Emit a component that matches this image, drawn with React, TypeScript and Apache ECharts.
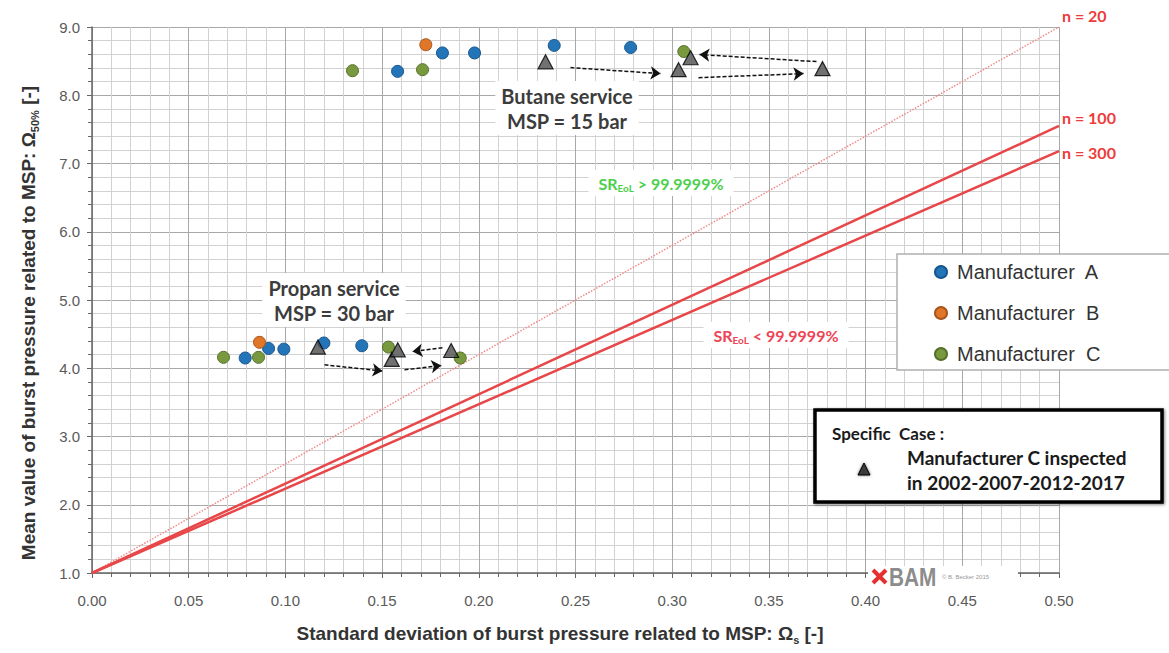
import React, { useEffect, useRef } from "react";
import * as echarts from "echarts";

// ---- data (x = Ω_s, y = Ω_50%) ----
const manufacturerA: number[][] = [
  [0.158, 8.35], [0.1812, 8.62], [0.1978, 8.62], [0.239, 8.73], [0.2785, 8.7],
  [0.0792, 4.15], [0.0913, 4.29], [0.0992, 4.28], [0.1199, 4.37], [0.1395, 4.33],
];
const manufacturerB: number[][] = [
  [0.1726, 8.74], [0.0866, 4.38],
];
const manufacturerC: number[][] = [
  [0.1347, 8.36], [0.1709, 8.375], [0.306, 8.64],
  [0.068, 4.16], [0.0861, 4.16], [0.1533, 4.31], [0.1904, 4.15],
];
// Manufacturer C inspected 2002-2007-2012-2017
const inspectedButane: number[][] = [
  [0.2345, 8.49], [0.3033, 8.375], [0.3777, 8.39], [0.3095, 8.55],
];
const inspectedPropan: number[][] = [
  [0.1168, 4.31], [0.155, 4.13], [0.1857, 4.26], [0.1581, 4.27],
];
const butaneArrows: number[][][] = [
  [[0.2474, 8.405], [0.294, 8.317]],
  [[0.3136, 8.258], [0.3679, 8.317]],
  [[0.3746, 8.493], [0.3141, 8.596]],
];
const propanArrows: number[][][] = [
  [[0.1202, 4.05], [0.1502, 3.96]],
  [[0.1616, 3.977], [0.1806, 4.04]],
  [[0.1812, 4.3], [0.1657, 4.245]],
];
const limitNames = ["n = 20", "n = 100", "n = 300"];
const limitStart = [0, 1.0];
const limitEndX = 0.5;
const limitEndY = [9.0, 7.55, 7.18];

const legendNames = ["Manufacturer  A", "Manufacturer  B", "Manufacturer  C"];

const FONT = "Liberation Sans, Arial, sans-serif";
const CAL = "Lato, Carlito, sans-serif";

export default function App() {
  const ref = useRef<HTMLDivElement>(null);
  useEffect(() => {
    if (!ref.current) return;
    const chart = echarts.init(ref.current, undefined, { renderer: "svg" });

    const circleSeries = (name: string, data: number[][], color: string, border: string) => ({
      name,
      type: "scatter",
      data,
      symbol: "circle",
      symbolSize: 12,
      itemStyle: { color, borderColor: border, borderWidth: 1, opacity: 1 },
      z: 5,
    });

    const limitStyles = [
      { color: "#f08a8a", width: 1.5, type: "dotted", off: [0, -12] },
      { color: "#e8474a", width: 2.5, type: "solid", off: [0, -8] },
      { color: "#e8474a", width: 2.5, type: "solid", off: [0, 1] },
    ];

    const limitSeries = limitNames.map((n, i) => ({
      name: n,
      type: "line",
      data: [limitStart, [limitEndX, limitEndY[i]]],
      showSymbol: false,
      symbol: "none",
      lineStyle: { color: limitStyles[i].color, width: limitStyles[i].width, type: limitStyles[i].type },
      clip: false,
      z: 3,
      endLabel: {
        show: true,
        formatter: n,
        color: "#ee3b3b",
        fontSize: 16,
        fontWeight: "bold",
        fontFamily: CAL,
        distance: 3,
        offset: limitStyles[i].off,
      },
      silent: true,
    }));

    const arrowSeries = (data: number[][][]) => ({
      type: "lines",
      coordinateSystem: "cartesian2d",
      symbol: ["none", "arrow"],
      symbolSize: 10,
      lineStyle: { color: "#111", width: 1.5, type: [4, 2], opacity: 1 },
      data: data.map((c) => ({ coords: c })),
      z: 6,
      silent: true,
    });

    const triSeries = (data: number[][]) => ({
      name: "Inspected",
      type: "scatter",
      data,
      symbol: "triangle",
      symbolSize: [15, 14],
      itemStyle: { color: "#4d4d4d", borderColor: "#000", borderWidth: 1.2 },
      z: 7,
    });

    const option: any = {
      animation: false,
      backgroundColor: "#ffffff",
      grid: { left: 92, right: 110, top: 27, bottom: 80 },
      xAxis: {
        type: "value",
        min: 0,
        max: 0.5,
        interval: 0.05,
        axisLine: { show: true, onZero: false, lineStyle: { color: "#666", width: 1.5 } },
        axisTick: { show: true, length: 5, lineStyle: { color: "#666" } },
        minorTick: { show: true, splitNumber: 5, length: 4, lineStyle: { color: "#666" } },
        splitLine: { show: true, lineStyle: { color: "#a8a8a8", width: 1 } },
        minorSplitLine: { show: true, lineStyle: { color: "#d2d2d2", width: 1 } },
        axisLabel: {
          margin: 20,
          color: "#5a5a5a",
          fontSize: 15,
          fontFamily: FONT,
          formatter: (v: number) => v.toFixed(2),
        },
      },
      yAxis: {
        type: "value",
        min: 1,
        max: 9,
        interval: 1,
        axisLine: { show: true, onZero: false, lineStyle: { color: "#666", width: 1.5 } },
        axisTick: { show: true, length: 5, lineStyle: { color: "#666" } },
        minorTick: { show: true, splitNumber: 5, length: 4, lineStyle: { color: "#666" } },
        splitLine: { show: true, lineStyle: { color: "#a8a8a8", width: 1 } },
        minorSplitLine: { show: true, lineStyle: { color: "#d2d2d2", width: 1 } },
        axisLabel: {
          margin: 12,
          color: "#5a5a5a",
          fontSize: 15,
          fontFamily: FONT,
          formatter: (v: number) => v.toFixed(1),
        },
      },
      legend: {
        data: legendNames,
        orient: "vertical",
        left: 934,
        top: 261,
        padding: 0,
        itemGap: 19,
        itemWidth: 22,
        itemHeight: 12,
        icon: "circle",
        textStyle: { fontSize: 20, lineHeight: 22, color: "#333", fontFamily: FONT },
        z: 20,
      },
      graphic: [
        // legend frame
        {
          type: "rect",
          z: 15,
          shape: { x: 897, y: 254, width: 300, height: 116 },
          style: { fill: "#fff", stroke: "#b0b0b0", lineWidth: 1.5 },
        },
        // Butane annotation
        {
          type: "text",
          z: 12,
          x: 567,
          y: 108,
          style: {
            text: "Butane service\nMSP = 15 bar",
            font: `bold 20px ${CAL}`,
            fill: "#3c3c3c",
            align: "center",
            verticalAlign: "middle",
            lineHeight: 25,
            backgroundColor: "#fff",
            padding: [2, 6],
          },
        },
        // Propan annotation
        {
          type: "text",
          z: 12,
          x: 334,
          y: 300,
          style: {
            text: "Propan service\nMSP = 30 bar",
            font: `bold 20px ${CAL}`,
            fill: "#3c3c3c",
            align: "center",
            verticalAlign: "middle",
            lineHeight: 25,
            backgroundColor: "#fff",
            padding: [2, 6],
          },
        },
        // SR labels
        {
          type: "text",
          z: 12,
          x: 661,
          y: 183,
          style: {
            text: "{a|SR}{s|EoL}{a| > 99.9999%}",
            align: "center",
            verticalAlign: "middle",
            backgroundColor: "#fff",
            padding: [3, 10],
            rich: {
              a: { fontSize: 16, fontWeight: "bold", fontFamily: CAL, fill: "#4ccf4c", color: "#4ccf4c", lineHeight: 20 },
              s: { fontSize: 10, fontWeight: "bold", fontFamily: CAL, fill: "#4ccf4c", color: "#4ccf4c", lineHeight: 20, verticalAlign: "bottom" },
            },
          },
        },
        {
          type: "text",
          z: 12,
          x: 776,
          y: 335,
          style: {
            text: "{a|SR}{s|EoL}{a| < 99.9999%}",
            align: "center",
            verticalAlign: "middle",
            backgroundColor: "#fff",
            padding: [3, 10],
            rich: {
              a: { fontSize: 16, fontWeight: "bold", fontFamily: CAL, fill: "#ee4455", color: "#ee4455", lineHeight: 20 },
              s: { fontSize: 10, fontWeight: "bold", fontFamily: CAL, fill: "#ee4455", color: "#ee4455", lineHeight: 20, verticalAlign: "bottom" },
            },
          },
        },
        // Specific case box
        {
          type: "rect",
          z: 20,
          shape: { x: 815, y: 410, width: 347, height: 92 },
          style: { fill: "#fff", stroke: "#000", lineWidth: 3.5, shadowBlur: 3, shadowColor: "rgba(0,0,0,0.5)", shadowOffsetX: 1, shadowOffsetY: 1 },
        },
        {
          type: "text",
          z: 21,
          x: 832,
          y: 433,
          style: { text: "Specific  Case :", font: `bold 17px ${CAL}`, fill: "#1a1a1a", verticalAlign: "middle" },
        },
        {
          type: "text",
          z: 21,
          x: 907,
          y: 457,
          style: { text: "Manufacturer C inspected", font: `bold 19px ${CAL}`, fill: "#1a1a1a", verticalAlign: "middle" },
        },
        {
          type: "text",
          z: 21,
          x: 907,
          y: 482,
          style: { text: "in 2002-2007-2012-2017", font: `bold 19px ${CAL}`, fill: "#1a1a1a", verticalAlign: "middle" },
        },
        {
          type: "polygon",
          z: 21,
          shape: { points: [[864, 463], [870, 475], [858, 475]] },
          style: { fill: "#3a3a3a", stroke: "#000", lineWidth: 1, shadowBlur: 3, shadowColor: "rgba(0,0,0,0.5)" },
        },
        // BAM logo
        {
          type: "rect",
          z: 12,
          shape: { x: 868, y: 566, width: 150, height: 22 },
          style: { fill: "#fff" },
        },
        {
          type: "line",
          z: 13,
          shape: { x1: 873, y1: 570, x2: 886, y2: 583 },
          style: { stroke: "#e53030", lineWidth: 4 },
        },
        {
          type: "line",
          z: 13,
          shape: { x1: 873, y1: 583, x2: 886, y2: 570 },
          style: { stroke: "#e53030", lineWidth: 4 },
        },
        {
          type: "text",
          z: 13,
          x: 889,
          y: 577,
          scaleX: 0.8,
          style: { text: "BAM", font: `bold 26px ${FONT}`, fill: "#8c8c8c", verticalAlign: "middle" },
        },
        {
          type: "text",
          z: 13,
          x: 942,
          y: 577,
          style: { text: "© B. Becker 2015", font: `6px ${FONT}`, fill: "#999", verticalAlign: "middle" },
        },
        // axis titles
        {
          type: "text",
          z: 12,
          x: 560,
          y: 633,
          style: {
            text: "{a|Standard deviation of burst pressure related to MSP: Ω}{s|s}{a| [-]}",
            align: "center",
            verticalAlign: "middle",
            rich: {
              a: { fontSize: 19, fontWeight: "bold", fontFamily: FONT, fill: "#333", color: "#333", lineHeight: 24 },
              s: { fontSize: 11, fontWeight: "bold", fontFamily: FONT, fill: "#333", color: "#333", lineHeight: 24, verticalAlign: "bottom" },
            },
          },
        },
        {
          type: "text",
          z: 12,
          x: 28,
          y: 323,
          rotation: Math.PI / 2,
          style: {
            text: "{a|Mean value of burst pressure related to MSP: Ω}{s|50%}{a| [-]}",
            align: "center",
            verticalAlign: "middle",
            rich: {
              a: { fontSize: 19, fontWeight: "bold", fontFamily: FONT, fill: "#333", color: "#333", lineHeight: 24 },
              s: { fontSize: 11, fontWeight: "bold", fontFamily: FONT, fill: "#333", color: "#333", lineHeight: 24, verticalAlign: "bottom" },
            },
          },
        },
      ],
      series: [
        ...limitSeries,
        circleSeries(legendNames[0], manufacturerA, "#2474b8", "#17568c"),
        circleSeries(legendNames[1], manufacturerB, "#e07628", "#a8541a"),
        circleSeries(legendNames[2], manufacturerC, "#78993e", "#55702a"),
        arrowSeries(butaneArrows),
        arrowSeries(propanArrows),
        triSeries(inspectedButane),
        triSeries(inspectedPropan),
      ],
    };
    chart.setOption(option);
    return () => chart.dispose();
  }, []);

  return (
    <div
      ref={ref}
      style={{ position: "absolute", left: 0, top: 0, width: 1169, height: 653 }}
    />
  );
}
